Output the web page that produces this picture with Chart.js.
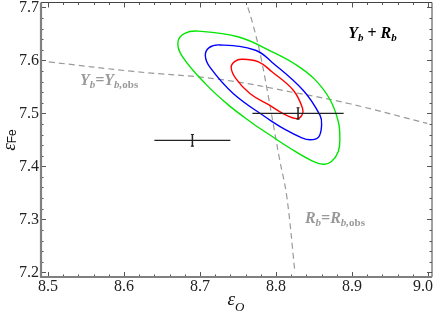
<!DOCTYPE html>
<html>
<head>
<meta charset="utf-8">
<script src="https://cdn.jsdelivr.net/npm/chart.js@4/dist/chart.umd.min.js"></script>
<style>
  html, body { margin: 0; padding: 0; background: #fff; }
  #wrap { width: 436px; height: 315px; }
</style>
</head>
<body>
<div id="wrap"><canvas id="c"></canvas></div>
<script>
// confidence contours, [eps_O, eps_Fe]
const greenContour = [
  [8.773, 7.477], [8.738, 7.515], [8.707, 7.556], [8.676, 7.609], [8.671, 7.635],
  [8.680, 7.651], [8.698, 7.655], [8.751, 7.644], [8.795, 7.616], [8.827, 7.591],
  [8.851, 7.564], [8.871, 7.526], [8.882, 7.484], [8.884, 7.452], [8.882, 7.428],
  [8.873, 7.409], [8.862, 7.404], [8.845, 7.412], [8.818, 7.4345], [8.792, 7.459],
  [8.773, 7.477]
];
const blueContour = [
  [8.792, 7.487], [8.744, 7.537], [8.713, 7.587], [8.707, 7.609], [8.712, 7.624],
  [8.726, 7.629], [8.773, 7.619], [8.795, 7.596], [8.836, 7.543], [8.858, 7.496],
  [8.860, 7.478], [8.856, 7.455], [8.845, 7.450], [8.832, 7.455], [8.810, 7.471],
  [8.792, 7.487]
];
const redContour = [
  [8.792, 7.515], [8.766, 7.537], [8.747, 7.566], [8.741, 7.587], [8.746, 7.598],
  [8.755, 7.602], [8.777, 7.597], [8.795, 7.578], [8.823, 7.543], [8.835, 7.509],
  [8.834, 7.496], [8.827, 7.490], [8.810, 7.499], [8.792, 7.515]
];

// Y_b = Y_b,obs and R_b = R_b,obs curves
const ybCurve = [[8.501, 7.597], [8.612, 7.579], [8.726, 7.564], [8.832, 7.537], [8.897, 7.518], [8.999, 7.481]];
const rbCurve = [[8.763, 7.700], [8.770, 7.666], [8.781, 7.600], [8.805, 7.411], [8.814, 7.345], [8.825, 7.199]];

// observed points with error bars
const obsX = [8.690, 8.829];
const obsY = [7.449, 7.4998];
const obsErrX = [0.050, 0.060];
const obsErrY = [0.011, 0.0107];

const xTickLabels = ['8.5', '8.6', '8.7', '8.8', '8.9', '9.0'];
const yTickLabels = ['7.2', '7.3', '7.4', '7.5', '7.6', '7.7'];

// label anchors (data coords, left end of text baseline)
const ybLabelAt = [8.542, 7.5534];
const rbLabelAt = [8.838, 7.293];
const titleLabelAt = [8.895, 7.642];

const SERIF = '"Liberation Serif", "Times New Roman", serif';
const SANS = '"Liberation Sans", Arial, sans-serif';

const toXY = arr => arr.map(([x, y]) => ({ x, y }));

function tickValues(labels) {
  const lo = parseFloat(labels[0]);
  const n = Math.round((parseFloat(labels[labels.length - 1]) - lo) / 0.02);
  const out = [];
  for (let k = 0; k <= n; k++) out.push({ value: +(lo + k * 0.02).toFixed(2) });
  return out;
}
const labelFor = (labels, v) => labels.find(l => Math.abs(parseFloat(l) - v) < 1e-6);

function line(data, color, extra) {
  return Object.assign({
    data: toXY(data), borderColor: color, borderWidth: 1.4,
    pointRadius: 0, tension: 0.4, fill: false, showLine: true
  }, extra || {});
}

const datasets = [];
obsX.forEach((x, i) => {
  const y = obsY[i], ex = obsErrX[i], ey = obsErrY[i];
  const bar = { borderWidth: 1.1, tension: 0 };
  datasets.push(line([[x - ex, y], [x + ex, y]], '#222', bar));
  datasets.push(line([[x, y - ey], [x, y + ey]], '#222', { borderWidth: 1.5, tension: 0 }));
  datasets.push(line([[x - 0.002, y + ey], [x + 0.002, y + ey]], '#222', bar));
  datasets.push(line([[x - 0.002, y - ey], [x + 0.002, y - ey]], '#222', bar));
});
datasets.push(line(redContour, '#ff0000'));
datasets.push(line(blueContour, '#0000ff'));
datasets.push(line(greenContour, '#00e600'));
datasets.push(line(ybCurve, '#9a9a9a', { borderDash: [6, 4], borderWidth: 1.2 }));
datasets.push(line(rbCurve, '#9a9a9a', { borderDash: [6, 4], borderWidth: 1.2 }));

function drawRich(ctx, parts, x, y, color) {
  ctx.fillStyle = color;
  ctx.textBaseline = 'alphabetic';
  ctx.textAlign = 'left';
  for (const p of parts) {
    ctx.font = p.font;
    ctx.fillText(p.t, x, y + (p.dy || 0));
    x += ctx.measureText(p.t).width;
  }
}

const big = 'bold italic 16px ' + SERIF;
const sub = 'bold italic 11px ' + SERIF;
const subUp = 'bold 11px ' + SERIF;

const decor = {
  id: 'decor',
  beforeDraw(chart) {
    // keep the last x label inside the canvas, like the original
    const items = chart.scales.x.getLabelItems();
    const last = items.find(it => it.label === xTickLabels[xTickLabels.length - 1]);
    if (last && !last._shifted) { last.options.translation[0] -= 5; last._shifted = true; }
  },
  afterDraw(chart) {
    const { ctx, chartArea: a, scales: { x, y } } = chart;
    ctx.save();

    // frame: thin top/right, heavy grey left/bottom
    ctx.strokeStyle = '#444';
    ctx.lineWidth = 1;
    ctx.beginPath();
    ctx.moveTo(a.left, a.top); ctx.lineTo(a.right, a.top); ctx.lineTo(a.right, a.bottom);
    ctx.stroke();

    ctx.strokeStyle = '#555';
    x.ticks.forEach(t => {
      const px = Math.round(x.getPixelForValue(t.value)) + 0.5;
      const len = labelFor(xTickLabels, t.value) ? 5 : 2.5;
      ctx.beginPath();
      ctx.moveTo(px, a.bottom); ctx.lineTo(px, a.bottom - len);
      ctx.moveTo(px, a.top); ctx.lineTo(px, a.top + len);
      ctx.stroke();
    });
    y.ticks.forEach(t => {
      const py = Math.round(y.getPixelForValue(t.value)) + 0.5;
      const len = labelFor(yTickLabels, t.value) ? 5 : 2.5;
      ctx.beginPath();
      ctx.moveTo(a.left, py); ctx.lineTo(a.left + len, py);
      ctx.moveTo(a.right, py); ctx.lineTo(a.right - len, py);
      ctx.stroke();
    });

    ctx.strokeStyle = '#808080';
    ctx.lineWidth = 2.2;
    ctx.beginPath();
    ctx.moveTo(a.left, a.top); ctx.lineTo(a.left, a.bottom); ctx.lineTo(a.right, a.bottom);
    ctx.stroke();

    // curve labels
    drawRich(ctx, [
      { t: 'Y', font: big }, { t: 'b', font: sub, dy: 3 }, { t: '=', font: big },
      { t: 'Y', font: big }, { t: 'b,', font: sub, dy: 3 }, { t: 'obs', font: subUp, dy: 3 }
    ], x.getPixelForValue(ybLabelAt[0]), y.getPixelForValue(ybLabelAt[1]), '#999');
    drawRich(ctx, [
      { t: 'R', font: big }, { t: 'b', font: sub, dy: 3 }, { t: '=', font: big },
      { t: 'R', font: big }, { t: 'b,', font: sub, dy: 3 }, { t: 'obs', font: subUp, dy: 3 }
    ], x.getPixelForValue(rbLabelAt[0]), y.getPixelForValue(rbLabelAt[1]), '#999');
    drawRich(ctx, [
      { t: 'Y', font: big }, { t: 'b', font: sub, dy: 3 }, { t: ' + ', font: 'bold 16px ' + SERIF },
      { t: 'R', font: big }, { t: 'b', font: sub, dy: 3 }
    ], x.getPixelForValue(titleLabelAt[0]), y.getPixelForValue(titleLabelAt[1]), '#000');

    // axis titles
    drawRich(ctx, [
      { t: 'ε', font: 'italic 19px ' + SERIF }, { t: 'O', font: 'italic 13px ' + SERIF, dy: 6 }
    ], (a.left + a.right) / 2 - 9, 305, '#111');
    ctx.translate(15, (a.top + a.bottom) / 2 + 11);
    ctx.rotate(-Math.PI / 2);
    drawRich(ctx, [
      { t: 'ε', font: 'italic 19px ' + SERIF }, { t: 'Fe', font: '12px ' + SANS, dy: 1 }
    ], 0, 0, '#111');

    ctx.restore();
  }
};

new Chart(document.getElementById('c'), {
  type: 'scatter',
  data: { datasets },
  options: {
    responsive: true,
    maintainAspectRatio: false,
    animation: false,
    events: [],
    layout: { autoPadding: false, padding: { top: 2.5, right: 4, left: 0, bottom: 0 } },
    scales: {
      x: {
        type: 'linear',
        min: 8.5 - 7 / 760,
        max: 9.0 + 4 / 760,
        afterBuildTicks: s => { s.ticks = tickValues(xTickLabels); },
        // fixed band height; drop the label overhang padding so the plot keeps its full width
        afterFit: s => { s.height = 38; s.paddingLeft = 0; s.paddingRight = 0; },
        ticks: {
          autoSkip: false, maxRotation: 0, padding: 0, color: '#222',
          font: { family: SERIF, size: 16 },
          callback: v => labelFor(xTickLabels, v) || ''
        },
        grid: { display: false, drawTicks: false },
        border: { display: false }
      },
      y: {
        type: 'linear',
        min: 7.2 - 4.7 / 530,
        max: 7.7 + 4.8 / 530,
        afterBuildTicks: s => { s.ticks = tickValues(yTickLabels); },
        afterFit: s => { s.width = 41; s.paddingTop = 0; s.paddingBottom = 0; },
        ticks: {
          autoSkip: false, padding: 2, color: '#222',
          font: { family: SERIF, size: 16 },
          callback: v => labelFor(yTickLabels, v) || ''
        },
        grid: { display: false, drawTicks: false },
        border: { display: false }
      }
    },
    plugins: {
      legend: { display: false },
      tooltip: { enabled: false }
    }
  },
  plugins: [decor]
});
</script>
</body>
</html>
